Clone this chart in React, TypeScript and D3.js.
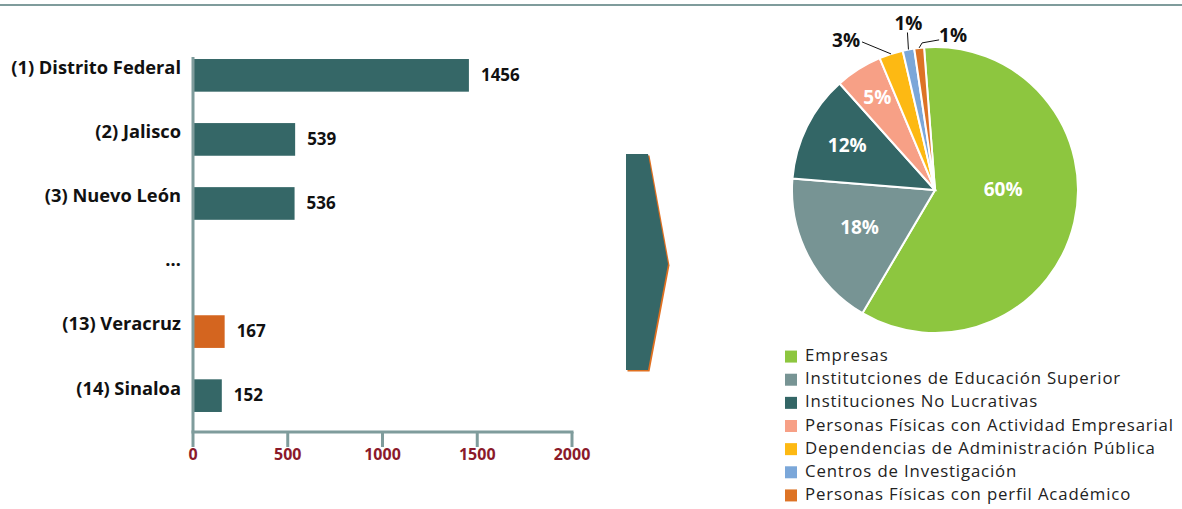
import * as d3 from 'd3';
import React from 'react';

const WIDTH = 1182;
const HEIGHT = 509;

// bar chart data
const states = ['(1) Distrito Federal', '(2) Jalisco', '(3) Nuevo León', '…', '(13) Veracruz', '(14) Sinaloa'];
const stateValues = [1456, 539, 536, null, 167, 152];
const highlighted = ['(13) Veracruz'];
const xTicks = [0, 500, 1000, 1500, 2000];

// pie chart data (percent)
const sectors = [
  'Empresas',
  'Institutciones de Educación Superior',
  'Instituciones No Lucrativas',
  'Personas Físicas con Actividad Empresarial',
  'Dependencias de Administración Pública',
  'Centros de Investigación',
  'Personas Físicas con perfil Académico',
];
const sectorShares = [59.7, 17.8, 12.1, 5.3, 2.7, 1.3, 1.1];
const sectorColors = ['#8dc63f', '#779494', '#336666', '#f7a086', '#fdb913', '#7ba7d9', '#dd7325'];

const TEAL = '#356767';
const ORANGE = '#d4651f';
const AXIS = '#7f9c9c';
const FONT = '"Open Sans", Lato, sans-serif';

const MARGIN = { top: 43, left: 193 };

function BarChart() {
  const x = d3.scaleLinear().domain([0, 2000]).range([0, 379]);
  const y = d3.scaleBand().domain(states).range([0, 385]).paddingInner(0.49).paddingOuter(0.25);
  const axisY = 389;

  return (
    <g transform={`translate(${MARGIN.left},${MARGIN.top})`}>
      {states.map((s, i) => {
        const v = stateValues[i];
        const yy = y(s)!;
        const mid = yy + y.bandwidth() / 2;
        return (
          <g key={s}>
            {v !== null && (
              <rect
                x={0}
                y={yy}
                width={x(v)}
                height={y.bandwidth()}
                fill={highlighted.includes(s) ? ORANGE : TEAL}
              />
            )}
            <text
              x={-12}
              y={mid - 6}
              dominantBaseline="middle"
              textAnchor="end"
              fontSize={18.3}
              fontWeight={700}
              fill="#111"
            >
              {s}
            </text>
            {v !== null && (
              <text
                x={x(v) + 12}
                y={mid + 1}
                dominantBaseline="middle"
                fontSize={17}
                fontWeight={700}
                fill="#111"
              >
                {v}
              </text>
            )}
          </g>
        );
      })}
      <line x1={0} x2={0} y1={14} y2={axisY} stroke={AXIS} strokeWidth={3} />
      <line x1={-1.5} x2={x(2000) + 1.5} y1={axisY} y2={axisY} stroke={AXIS} strokeWidth={3} />
      {xTicks.map(t => (
        <g key={t} transform={`translate(${x(t)},0)`}>
          <line y1={axisY} y2={axisY + 15} stroke={AXIS} strokeWidth={3} />
          <text
            y={axisY + 24}
            dominantBaseline="middle"
            textAnchor="middle"
            fontSize={16}
            fontWeight={700}
            fill="#8b1a2a"
          >
            {t}
          </text>
        </g>
      ))}
    </g>
  );
}

function Arrow() {
  const pts: [number, number][] = [
    [626, 154],
    [648, 154],
    [668, 264],
    [648, 370],
    [626, 370],
  ];
  const line = d3.line();
  return (
    <g>
      <path d={line(pts.map(([a, b]) => [a + 1.5, b + 1.5]))! + 'Z'} fill="#e07020" />
      <path d={line(pts)! + 'Z'} fill={TEAL} />
    </g>
  );
}

function PieChart() {
  const cx = 935;
  const cy = 190;
  const R = 143;
  const start = (-4.4 * Math.PI) / 180;
  const pie = d3
    .pie<number>()
    .sort(null)
    .startAngle(start)
    .endAngle(start + 2 * Math.PI);
  const arcs = pie(sectorShares);
  const arc = d3.arc<d3.PieArcDatum<number>>().innerRadius(0).outerRadius(R);
  const total = d3.sum(sectorShares);

  const pctText = (v: number) => `${Math.round((v / total) * 100)}%`;
  const outerPoint = (a: d3.PieArcDatum<number>) => {
    const m = (a.startAngle + a.endAngle) / 2;
    return [Math.sin(m) * R, -Math.cos(m) * R];
  };

  return (
    <g transform={`translate(${cx},${cy})`}>
      {arcs.map((a, i) => (
        <path key={sectors[i]} d={arc(a)!} fill={sectorColors[i]} stroke="#fff" strokeWidth={2} />
      ))}
      {arcs.map((a, i) => {
        const pct = a.data / total;
        if (pct < 0.04) return null;
        const lr = pct > 0.5 ? 70 : pct > 0.15 ? 85 : pct > 0.1 ? 98 : 108;
        const la = d3.arc<d3.PieArcDatum<number>>().innerRadius(lr).outerRadius(lr);
        const [lx, ly] = la.centroid(a);
        return (
          <text
            key={sectors[i]}
            x={lx}
            y={pct > 0.5 ? ly - 15 : ly}
            textAnchor="middle"
            dominantBaseline="middle"
            fontSize={19}
            fontWeight={700}
            fill="#fff"
          >
            {pctText(a.data)}
          </text>
        );
      })}
      {/* small slices: labels outside with leader lines */}
      {(() => {
        const [y3x, y3y] = outerPoint(arcs[4]);
        const [bx, by] = outerPoint(arcs[5]);
        const [ox, oy] = outerPoint(arcs[6]);
        return (
          <g fill="#111" fontSize={19} fontWeight={700}>
            <polyline
              points={`${y3x},${y3y} ${y3x - 29},${y3y - 12}`}
              fill="none"
              stroke="#111"
              strokeWidth={1}
            />
            <text x={y3x - 31} y={y3y - 7} textAnchor="end">
              {pctText(arcs[4].data)}
            </text>
            <polyline points={`${bx},${by} ${bx - 1},${by - 17}`} fill="none" stroke="#111" strokeWidth={1} />
            <text x={bx} y={by - 20} textAnchor="middle">
              {pctText(arcs[5].data)}
            </text>
            <polyline
              points={`${ox},${oy} ${ox + 3},${oy - 5} ${ox + 20},${oy - 8}`}
              fill="none"
              stroke="#111"
              strokeWidth={1}
            />
            <text x={ox + 20} y={oy - 6}>
              {pctText(arcs[6].data)}
            </text>
          </g>
        );
      })()}
    </g>
  );
}

function Legend() {
  const y = d3.scaleBand().domain(sectors).range([345, 507]);
  return (
    <g>
      {sectors.map((s, i) => {
        const mid = y(s)! + y.bandwidth() / 2;
        return (
          <g key={s}>
            <rect x={785} y={mid - 6} width={12} height={12} fill={sectorColors[i]} />
            <text
              x={805}
              y={mid}
              dominantBaseline="middle"
              fontSize={16.8}
              letterSpacing={0.85}
              fill="#222"
            >
              {s}
            </text>
          </g>
        );
      })}
    </g>
  );
}

export default function App() {
  return (
    <svg
      width={WIDTH}
      height={HEIGHT}
      style={{ position: 'absolute', left: 0, top: 0, background: '#fff' }}
      fontFamily={FONT}
    >
      <line x1={0} x2={WIDTH} y1={5} y2={5} stroke={AXIS} strokeWidth={2} />
      <BarChart />
      <Arrow />
      <PieChart />
      <Legend />
    </svg>
  );
}
